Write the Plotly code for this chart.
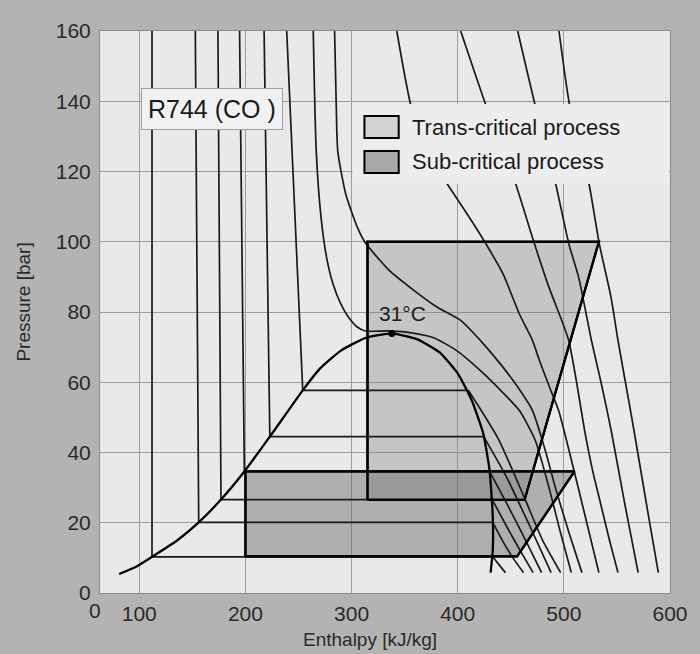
import plotly.graph_objects as go

# ---- CO2 saturation dome (enthalpy kJ/kg, pressure bar) ----
dome_h = [81, 97, 112, 135, 156, 177, 199, 223, 254, 270, 290, 313, 338, 362, 383, 400, 413, 424, 430, 433, 433, 431]
dome_p = [5.4, 7.5, 10.3, 14.8, 20.1, 26.6, 34.6, 44.5, 57.7, 63.8, 69.0, 72.6, 73.9, 72.2, 68.5, 62.5, 55.0, 45.5, 35.0, 22.0, 12.0, 5.8]

critical_h = [338]
critical_p = [73.9]

# ---- sub-critical isotherms: liquid line, two-phase plateau, vapour branch ----
sat_temps = [-40, -20, -10, 0, 10, 20]
liq_top_h = [112, 152.8, 174.1, 194.5, 217.6, 238.9]
sat_liq_h = [112, 156, 177, 199, 223, 254]
sat_vap_h = [433, 433, 432.5, 430, 424.5, 410]
sat_p = [10.3, 20.1, 26.6, 34.6, 44.5, 57.7]
vap_h = [
    [433, 439, 445],
    [433, 442, 452, 462],
    [432.5, 446, 459, 471],
    [430, 447, 464, 479],
    [424.5, 446, 468, 488],
    [410, 438, 463, 480, 497],
]
vap_p = [
    [10.3, 8.0, 5.8],
    [20.1, 15.0, 10.0, 5.8],
    [26.6, 19.0, 12.0, 5.8],
    [34.6, 25.0, 15.0, 5.8],
    [44.5, 33.0, 19.0, 5.8],
    [57.7, 44.0, 27.0, 15.0, 5.8],
]

# ---- near- and super-critical isotherms (30 ... 120 degC) ----
super_temps = [30, 40, 60, 80, 100, 120]
super_h = [
    [263.9, 266.7, 271.3, 276.5, 282.4, 289.5, 297.3, 305, 313, 335, 358, 378, 400, 424, 442, 458, 473, 486, 497, 507],
    [284, 285.5, 287, 294.5, 305.6, 313, 335, 359, 380, 402.8, 424, 442.6, 458, 470.4, 482.4, 492, 505, 517],
    [342.6, 356.5, 372, 390, 413, 426, 442.6, 458, 470.4, 477, 486, 495, 507, 520, 533],
    [402.8, 426.9, 453.7, 472.3, 486, 498, 504.6, 512, 519.5, 527, 535, 543, 551],
    [456.5, 473.2, 491.7, 504.7, 514, 526, 535, 544.5, 557, 570],
    [495.4, 505.6, 523.2, 533.4, 544.5, 551, 558, 566, 578, 589],
]
super_p = [
    [160, 125.8, 106.8, 95.5, 88.1, 82.5, 78.4, 75.8, 74.6, 74.6, 74.0, 72.6, 68.8, 62.6, 57.2, 52, 43.5, 30, 17, 5.8],
    [160, 140, 125.8, 113.6, 104, 99.7, 92, 86.1, 81.5, 77.6, 71, 64.3, 58, 52, 40.7, 30, 17, 5.8],
    [160, 138, 125, 116.5, 106, 99.7, 90.9, 79.5, 71.9, 66.2, 59, 52, 38, 22, 5.8],
    [160, 138.6, 117.3, 99.4, 87, 77.6, 71.9, 60, 46.4, 35, 25, 15, 5.8],
    [160, 138.6, 117.3, 99.4, 89.8, 71.9, 60, 46.4, 26, 5.8],
    [160, 138.6, 117.3, 99.4, 84.1, 71.9, 60, 46.4, 25, 5.8],
]

# ---- refrigeration cycles ----
trans_h = [315, 315, 533, 463, 315]
trans_p = [26.5, 100, 100, 26.5, 26.5]
sub_h = [200, 200, 510, 456, 200]
sub_p = [10.4, 34.6, 34.6, 10.4, 10.4]

cycle_names = ["Trans-critical process", "Sub-critical process"]
x_ticks = [100, 200, 300, 400, 500, 600]
y_ticks = [0, 20, 40, 60, 80, 100, 120, 140, 160]

FONT = "Liberation Sans, Arial, sans-serif"
INK = "#1a1a1a"
TRANS_FILL = "rgba(120,120,120,0.32)"
SUB_FILL = "rgba(95,95,95,0.42)"

# plot-area geometry in screen pixels, used to place the legend block
W, H = 700, 654
ML, MR, MT, MB = 100, 18, 31, 61
PW, PH = W - ML - MR, H - MT - MB


def paper_x(px):
    return (px - ML) / PW


def paper_y(py):
    return 1 - (py - MT) / PH


fig = go.Figure()

# cycle areas
fig.add_trace(go.Scatter(
    x=trans_h, y=trans_p, mode="lines", fill="toself", fillcolor=TRANS_FILL,
    line=dict(color="black", width=2.2), name=cycle_names[0],
    showlegend=False, hoverinfo="skip"))
fig.add_trace(go.Scatter(
    x=sub_h, y=sub_p, mode="lines", fill="toself", fillcolor=SUB_FILL,
    line=dict(color="black", width=2.2), name=cycle_names[1],
    showlegend=False, hoverinfo="skip"))

iso_line = dict(color=INK, width=1.7)
iso_curve = dict(color=INK, width=1.7, shape="spline", smoothing=0.6)

# sub-critical isotherms
for i in range(len(sat_temps)):
    fig.add_trace(go.Scatter(
        x=[liq_top_h[i], sat_liq_h[i], sat_vap_h[i]],
        y=[160, sat_p[i], sat_p[i]],
        mode="lines", line=iso_line, showlegend=False, hoverinfo="skip"))
    fig.add_trace(go.Scatter(
        x=vap_h[i], y=vap_p[i], mode="lines", line=iso_curve,
        showlegend=False, hoverinfo="skip"))

# super-critical isotherms
for i in range(len(super_temps)):
    fig.add_trace(go.Scatter(
        x=super_h[i], y=super_p[i], mode="lines", line=iso_curve,
        showlegend=False, hoverinfo="skip"))

# saturation dome
fig.add_trace(go.Scatter(
    x=dome_h, y=dome_p, mode="lines",
    line=dict(color="black", width=2.3, shape="spline", smoothing=0.5),
    showlegend=False, hoverinfo="skip"))

# cycle outlines on top of the isotherms
for hx, py in ((trans_h, trans_p), (sub_h, sub_p)):
    fig.add_trace(go.Scatter(x=hx, y=py, mode="lines",
                             line=dict(color="black", width=2.3),
                             showlegend=False, hoverinfo="skip"))

# critical point
fig.add_trace(go.Scatter(
    x=critical_h, y=critical_p, mode="markers",
    marker=dict(color="black", size=7), showlegend=False, hoverinfo="skip"))

fig.add_annotation(x=348, y=79.6, text="31°C", showarrow=False,
                   font=dict(family=FONT, size=21, color=INK))

fig.add_annotation(xref="paper", yref="paper", x=paper_x(214), y=paper_y(109),
                   xanchor="center", yanchor="middle",
                   text="R744 (CO )", showarrow=False,
                   font=dict(family=FONT, size=25, color=INK),
                   bgcolor="#f1f1f1", bordercolor="#a0a0a0", borderwidth=1,
                   borderpad=6)

# legend block
fig.add_shape(type="rect", xref="paper", yref="paper", layer="above",
              x0=paper_x(358), x1=paper_x(681), y0=paper_y(184), y1=paper_y(104),
              fillcolor="#ededed", line=dict(width=0))
for name, fill, yc in ((cycle_names[0], "#d2d2d2", 127), (cycle_names[1], "#a9a9a9", 162)):
    fig.add_shape(type="rect", xref="paper", yref="paper", layer="above",
                  x0=paper_x(370), x1=paper_x(405), y0=paper_y(yc + 11), y1=paper_y(yc - 11),
                  fillcolor=fill, line=dict(color="black", width=2))
    fig.add_annotation(xref="paper", yref="paper", x=paper_x(417), y=paper_y(yc),
                       xanchor="left", yanchor="middle", text=name, showarrow=False,
                       font=dict(family=FONT, size=22, color=INK))

# axis titles and the lone x-origin label
fig.add_annotation(xref="paper", yref="paper", x=paper_x(22), y=paper_y(302),
                   xanchor="center", yanchor="middle",
                   text="Pressure [bar]", textangle=-90, showarrow=False,
                   font=dict(family=FONT, size=19, color="#2a2a2a"))
fig.add_annotation(xref="paper", yref="paper", x=paper_x(376), y=paper_y(640),
                   xanchor="center", yanchor="middle",
                   text="Enthalpy [kJ/kg]", showarrow=False,
                   font=dict(family=FONT, size=19, color="#2a2a2a"))
fig.add_annotation(xref="paper", yref="paper", x=paper_x(95), y=paper_y(610),
                   xanchor="center", yanchor="middle",
                   text="0", showarrow=False,
                   font=dict(family=FONT, size=21, color="#2a2a2a"))

axis_common = dict(
    showgrid=True, gridcolor="#9c9c9c", gridwidth=1, zeroline=False,
    showline=True, linecolor="#8a8a8a", linewidth=1, mirror=True,
    ticks="outside", tickcolor="rgba(0,0,0,0)",
    tickfont=dict(family=FONT, size=21, color="#2a2a2a"),
)

fig.update_layout(
    width=W, height=H,
    margin=dict(l=ML, r=MR, t=MT, b=MB),
    paper_bgcolor="#b3b3b3", plot_bgcolor="#e9e9e9",
    xaxis=dict(range=[63, 600], tickvals=x_ticks, ticklen=2, **axis_common),
    yaxis=dict(range=[0, 160], tickvals=y_ticks, ticklen=4, **axis_common),
    showlegend=False,
)

fig.write_html("out.html")
